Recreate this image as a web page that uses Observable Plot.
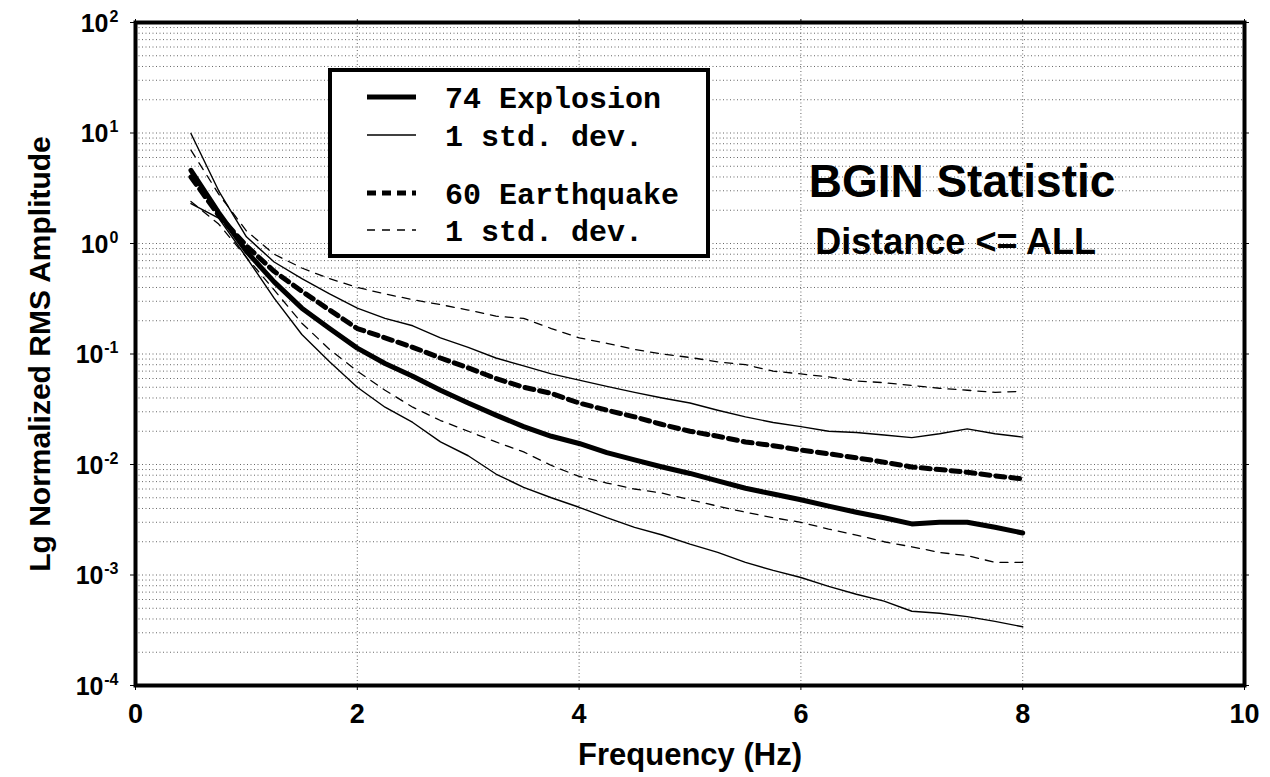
<!DOCTYPE html>
<html>
<head>
<meta charset="utf-8">
<script src="https://cdn.jsdelivr.net/npm/d3@7"></script>
<script src="https://cdn.jsdelivr.net/npm/@observablehq/plot@0.6"></script>
<style>
  body { margin: 0; background: #fff; }
  #wrap { position: relative; width: 1270px; height: 777px; background: #fff; }
  #legend { position: absolute; left: 328px; top: 68px; width: 374px; height: 182px;
            border: 4px solid #000; background: #fff; }
  #legend svg { position: absolute; left: 0; top: 0; }
</style>
</head>
<body>
<div id="wrap"><div id="legend"></div></div>
<script>
// ---- data ----
const freq = [0.5, 0.75, 1.0, 1.25, 1.5, 1.75, 2.0, 2.25, 2.5, 2.75, 3.0, 3.25, 3.5, 3.75, 4.0,
              4.25, 4.5, 4.75, 5.0, 5.25, 5.5, 5.75, 6.0, 6.25, 6.5, 6.75, 7.0, 7.25, 7.5, 7.75, 8.0];

const explosionMean = [4.6, 1.9, 0.85, 0.45, 0.26, 0.17, 0.113, 0.082, 0.063, 0.047, 0.036, 0.028,
                       0.022, 0.018, 0.0155, 0.0128, 0.011, 0.0095, 0.0083, 0.0071, 0.0061, 0.0054,
                       0.0048, 0.0042, 0.0037, 0.0033, 0.0029, 0.003, 0.003, 0.0027, 0.0024];
const explosionPlus = [9.9, 3.0, 1.15, 0.68, 0.48, 0.35, 0.26, 0.21, 0.18, 0.14, 0.115, 0.092,
                       0.078, 0.066, 0.058, 0.051, 0.045, 0.04, 0.036, 0.031, 0.027, 0.024,
                       0.022, 0.02, 0.0195, 0.0185, 0.0175, 0.019, 0.021, 0.019, 0.0177];
const explosionMinus = [2.3, 1.7, 0.75, 0.32, 0.15, 0.085, 0.05, 0.033, 0.024, 0.016, 0.012, 0.0082,
                        0.0062, 0.005, 0.0041, 0.0033, 0.0027, 0.0023, 0.0019, 0.0016, 0.0013, 0.0011,
                        0.00095, 0.00079, 0.00067, 0.00058, 0.00047, 0.00045, 0.00042, 0.00038, 0.00034];
const quakeMean = [4.0, 1.8, 0.95, 0.56, 0.37, 0.25, 0.17, 0.14, 0.115, 0.092, 0.075, 0.06,
                   0.05, 0.044, 0.036, 0.031, 0.027, 0.023, 0.02, 0.018, 0.016, 0.0148,
                   0.0135, 0.0125, 0.0115, 0.0105, 0.0095, 0.009, 0.0085, 0.0079, 0.0074];
const quakePlus = [7.0, 2.8, 1.3, 0.8, 0.6, 0.48, 0.4, 0.35, 0.31, 0.28, 0.25, 0.22,
                   0.21, 0.17, 0.14, 0.125, 0.11, 0.1, 0.093, 0.085, 0.08, 0.07,
                   0.066, 0.062, 0.057, 0.055, 0.052, 0.049, 0.047, 0.045, 0.046];
const quakeMinus = [2.4, 1.5, 0.75, 0.38, 0.19, 0.11, 0.07, 0.047, 0.033, 0.025, 0.02, 0.016,
                    0.013, 0.0098, 0.0078, 0.0068, 0.006, 0.0055, 0.0048, 0.0042, 0.0037, 0.0033,
                    0.003, 0.0026, 0.0023, 0.002, 0.0018, 0.0016, 0.0015, 0.0013, 0.0013];

const xTicks = [0, 2, 4, 6, 8, 10];
const xGrid = [2, 4, 6, 8];
const yTicks = [1e-4, 1e-3, 1e-2, 1e-1, 1e0, 1e1, 1e2];
const yExponents = ["-4", "-3", "-2", "-1", "0", "1", "2"];
const minorMultipliers = [2, 3, 4, 5, 6, 7, 8, 9];

const legendLabels = ["74 Explosion", "1 std. dev.", "60 Earthquake", "1 std. dev."];
const titleText = "BGIN Statistic";
const subtitleText = "Distance <= ALL";
const xLabel = "Frequency (Hz)";
const yLabel = "Lg Normalized RMS Amplitude";

// ---- derived tables ----
function series(name, values) { return freq.map((f, i) => ({series: name, f, v: values[i]})); }
const rows = {
  exMean: series("74 Explosion", explosionMean),
  exPlus: series("Explosion +1 std", explosionPlus),
  exMinus: series("Explosion -1 std", explosionMinus),
  eqMean: series("60 Earthquake", quakeMean),
  eqPlus: series("Earthquake +1 std", quakePlus),
  eqMinus: series("Earthquake -1 std", quakeMinus)
};
const gridY = [];
yTicks.slice(0, -1).forEach(t => {
  gridY.push(t);
  minorMultipliers.forEach(m => gridY.push(t * m));
});
const yTickRows = yTicks.map((t, i) => ({t, e: yExponents[i], neg: yExponents[i].startsWith("-")}));

const font = "'Liberation Sans', Arial, Helvetica, sans-serif";
const thin = {stroke: "#000", strokeWidth: 1.4};
const thick = {stroke: "#000", strokeWidth: 5};

const chart = Plot.plot({
  width: 1270,
  height: 777,
  marginLeft: 135,
  marginRight: 26,
  marginTop: 22,
  marginBottom: 92,
  style: {fontFamily: font, fontWeight: "bold", background: "#fff", color: "#000"},
  x: {domain: [0, 10]},
  y: {type: "log", domain: [1e-4, 1e2]},
  marks: [
    Plot.ruleY(gridY.slice(1), {stroke: "#666", strokeWidth: 1, strokeDasharray: "1,2.5"}),
    Plot.ruleX(xGrid, {stroke: "#666", strokeWidth: 1, strokeDasharray: "1,2.5"}),
    Plot.line(rows.exPlus, {x: "f", y: "v", ...thin}),
    Plot.line(rows.exMinus, {x: "f", y: "v", ...thin}),
    Plot.line(rows.eqPlus, {x: "f", y: "v", ...thin, strokeWidth: 1.3, strokeDasharray: "8,7"}),
    Plot.line(rows.eqMinus, {x: "f", y: "v", ...thin, strokeWidth: 1.3, strokeDasharray: "8,7"}),
    Plot.line(rows.eqMean, {x: "f", y: "v", ...thick, strokeDasharray: "9,6"}),
    Plot.line(rows.exMean, {x: "f", y: "v", ...thick}),
    Plot.frame({stroke: "#000", strokeWidth: 4}),
    Plot.axisX({ticks: xTicks, tickSize: 5, tickPadding: 13, fontSize: 27, fontWeight: "bold", label: null}),
    Plot.axisX({ticks: xTicks, anchor: "top", tickSize: 4, tickFormat: () => "", label: null}),
    Plot.axisY({ticks: yTicks, tickSize: 5, tickFormat: () => "", label: null}),
    Plot.axisY({ticks: yTicks, anchor: "right", tickSize: 4, tickFormat: () => "", label: null}),
    // y tick labels 10^n
    Plot.text(yTickRows.filter(d => !d.neg), {frameAnchor: "left", y: "t", text: () => "10", textAnchor: "end", dx: -27, dy: 1, fontSize: 25, fontWeight: "bold"}),
    Plot.text(yTickRows.filter(d => d.neg), {frameAnchor: "left", y: "t", text: () => "10", textAnchor: "end", dx: -32, dy: 1, fontSize: 25, fontWeight: "bold"}),
    Plot.text(yTickRows, {frameAnchor: "left", y: "t", text: "e", textAnchor: "end", dx: -17, dy: -6, fontSize: 16, fontWeight: "bold"}),
    // axis titles
    Plot.text([xLabel], {frameAnchor: "bottom", dy: 79, fontSize: 31, fontWeight: "bold"}),
    Plot.text([yLabel], {frameAnchor: "left", textAnchor: "middle", dx: -95, rotate: -90, fontSize: 30, fontWeight: "bold"}),
    // annotations
    Plot.text([titleText], {x: 6.07, y: 3.6, textAnchor: "start", fontSize: 46, fontWeight: "bold"}),
    Plot.text([subtitleText], {x: 6.13, y: 1.03, textAnchor: "start", fontSize: 36, fontWeight: "bold"})
  ]
});
const wrap = document.getElementById("wrap");
wrap.insertBefore(chart, wrap.firstChild);

// ---- legend (inside box, as in the reference) ----
const legendStyles = [
  {w: 5, dash: null},
  {w: 1.4, dash: null},
  {w: 5, dash: "9,6"},
  {w: 1.3, dash: "8,7"}
];
const legendRowY = [25, 63, 121, 158];
const lsvg = d3.select("#legend").append("svg").attr("width", 374).attr("height", 182);
legendLabels.forEach((label, i) => {
  const y = legendRowY[i];
  const s = legendStyles[i];
  lsvg.append("line").attr("x1", 35).attr("x2", 84).attr("y1", y).attr("y2", y)
    .attr("stroke", "#000").attr("stroke-width", s.w).attr("stroke-dasharray", s.dash);
  lsvg.append("text").attr("x", 113).attr("y", y).attr("dy", "0.35em")
    .attr("font-family", "'Liberation Mono', 'Courier New', monospace")
    .attr("font-weight", "bold").attr("font-size", 30).text(label);
});
</script>
</body>
</html>
